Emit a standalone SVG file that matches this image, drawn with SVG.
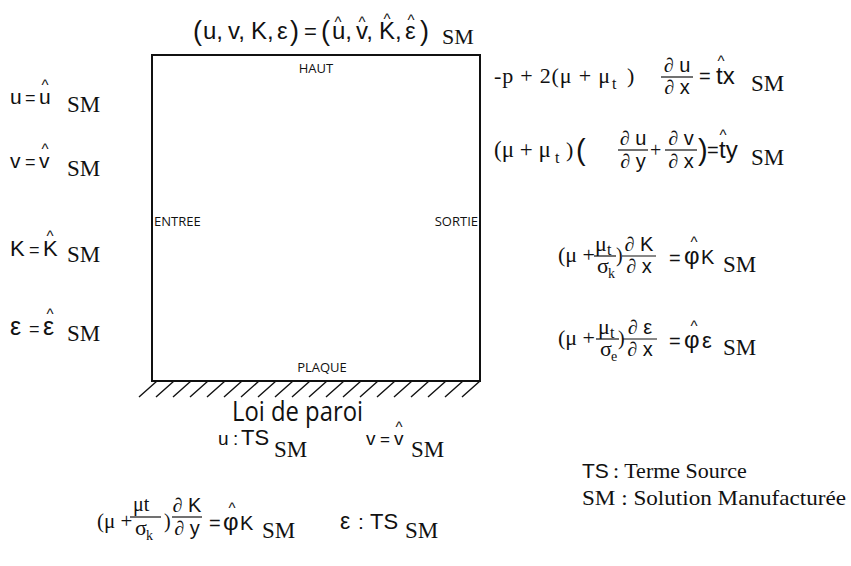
<svg xmlns="http://www.w3.org/2000/svg" width="851" height="566" viewBox="0 0 851 566">
<style>
.s{font-family:"Liberation Sans",Arial,sans-serif;fill:#111}
.r{font-family:"Liberation Serif","Times New Roman",serif;fill:#111}
.o{font-family:"Open Sans","DejaVu Sans",sans-serif;fill:#111}
.h{font-family:"Liberation Sans",Arial,sans-serif;font-size:15px;fill:#111;text-anchor:middle}
.d{font-family:"Liberation Serif",serif;font-style:italic;fill:#111}
.fl{stroke:#111;stroke-width:1.2}
.box{fill:none;stroke:#111;stroke-width:2}
.hatch{stroke:#111;stroke-width:1.4}
.sm{font-family:"Liberation Serif","Times New Roman",serif;fill:#111;font-size:23px}
</style>

<g id="domain">
<rect class="box" x="152" y="55" width="328" height="326"/>
<g id="wall-hatch">
<line class="hatch" x1="152" y1="381" x2="480" y2="381"/>
<path class="hatch" fill="none" d="M139,397L157,381M156,397L174,381M173,397L191,381M190,397L208,381M207,397L225,381M224,397L242,381M241,397L259,381M258,397L276,381M275,397L293,381M292,397L310,381M309,397L327,381M326,397L344,381M343,397L361,381M360,397L378,381M377,397L395,381M394,397L412,381M411,397L429,381M428,397L446,381M445,397L463,381M462,397L480,381"/>
</g>
<text class="o" x="316" y="73" font-size="13" text-anchor="middle">HAUT</text>
<text class="o" x="154" y="226" font-size="13">ENTREE</text>
<text class="o" x="478" y="226" font-size="13" text-anchor="end">SORTIE</text>
<text class="o" x="322" y="372" font-size="13" text-anchor="middle">PLAQUE</text>
</g>

<g id="top-condition">
<text class="s" x="193" y="40" font-size="27">(</text>
<text class="s" x="203" y="39" font-size="24">u,</text>
<text class="s" x="228" y="39" font-size="24">v,</text>
<text class="s" x="251" y="39" font-size="24">K,</text>
<text class="s" x="277" y="39" font-size="24">ε</text>
<text class="s" x="290" y="40" font-size="27">)</text>
<text class="s" x="304" y="39" font-size="22">=</text>
<text class="s" x="321" y="40" font-size="27">(</text>
<text class="s" x="332" y="39" font-size="24">u,</text>
<text class="s" x="356" y="39" font-size="24">v,</text>
<text class="s" x="379" y="39" font-size="24">K,</text>
<text class="s" x="405" y="39" font-size="24">ε</text>
<text class="s" x="420" y="40" font-size="27">)</text>
<text class="h" x="338" y="27">^</text>
<text class="h" x="362" y="27">^</text>
<text class="h" x="387" y="24">^</text>
<text class="h" x="411" y="25">^</text>
<text class="r" x="442" y="44" font-size="22">SM</text>
</g>

<g id="inlet">
<text class="s" x="10" y="104" font-size="21">u</text>
<text class="s" x="25" y="104" font-size="18">=</text>
<text class="s" x="39" y="104" font-size="21">u</text>
<text class="h" x="45" y="90">^</text>
<text class="sm" x="67" y="112" font-size="24">SM</text>

<text class="s" x="10" y="168" font-size="21">v</text>
<text class="s" x="25" y="168" font-size="18">=</text>
<text class="s" x="39" y="168" font-size="21">v</text>
<text class="h" x="45" y="154">^</text>
<text class="sm" x="67" y="176" font-size="24">SM</text>

<text class="s" x="10" y="256" font-size="22">K</text>
<text class="s" x="29" y="256" font-size="18">=</text>
<text class="s" x="43" y="256" font-size="22">K</text>
<text class="h" x="50" y="241">^</text>
<text class="sm" x="67" y="262" font-size="24">SM</text>

<text class="s" x="10" y="335" font-size="25">ε</text>
<text class="s" x="29" y="335" font-size="18">=</text>
<text class="s" x="43" y="335" font-size="25">ε</text>
<text class="h" x="50" y="319">^</text>
<text class="sm" x="67" y="341" font-size="24">SM</text>
</g>

<g id="outlet">
<text class="r" x="494" y="83" font-size="22" textLength="116" lengthAdjust="spacing">-p + 2(μ +  μ</text>
<text class="r" x="612" y="89" font-size="16">t</text>
<text class="r" x="627" y="83" font-size="22">)</text>
<text class="s" x="677" y="72" font-size="20" text-anchor="middle"><tspan class="d">∂</tspan> u</text>
<line class="fl" x1="661" y1="77" x2="693" y2="77"/>
<text class="s" x="677" y="94" font-size="20" text-anchor="middle"><tspan class="d">∂</tspan> x</text>
<text class="s" x="699" y="83" font-size="20">=</text>
<text class="s" x="716" y="84" font-size="24">tx</text>
<text class="h" x="721" y="66">^</text>
<text class="sm" x="751" y="91">SM</text>

<text class="r" x="494" y="157" font-size="23">(μ + μ</text>
<text class="r" x="555" y="163" font-size="16">t</text>
<text class="r" x="566" y="157" font-size="22">)</text>
<text class="s" x="576" y="160" font-size="29">(</text>
<text class="s" x="633" y="145" font-size="20" text-anchor="middle"><tspan class="d">∂</tspan> u</text>
<line class="fl" x1="618" y1="150" x2="648" y2="150"/>
<text class="s" x="633" y="168" font-size="20" text-anchor="middle"><tspan class="d">∂</tspan> y</text>
<text class="r" x="650" y="157" font-size="20">+</text>
<text class="s" x="681" y="145" font-size="20" text-anchor="middle"><tspan class="d">∂</tspan> v</text>
<line class="fl" x1="665" y1="150" x2="697" y2="150"/>
<text class="s" x="681" y="168" font-size="20" text-anchor="middle"><tspan class="d">∂</tspan> x</text>
<text class="s" x="698" y="160" font-size="29">)</text>
<text class="s" x="707" y="157" font-size="20">=</text>
<text class="s" x="719" y="158" font-size="24">ty</text>
<text class="h" x="723" y="140">^</text>
<text class="sm" x="751" y="165">SM</text>

<text class="r" x="558" y="262" font-size="22">(μ +</text>
<text class="r" x="595" y="251" font-size="22">μ</text>
<text class="r" x="607" y="255" font-size="16">t</text>
<line class="fl" x1="594" y1="256" x2="616" y2="256"/>
<text class="r" x="597" y="273" font-size="22">σ</text>
<text class="r" x="608" y="278" font-size="14">k</text>
<text class="r" x="616" y="262" font-size="20">)</text>
<text class="s" x="639" y="251" font-size="20" text-anchor="middle"><tspan class="d">∂</tspan> K</text>
<line class="fl" x1="622" y1="256" x2="656" y2="256"/>
<text class="s" x="639" y="273" font-size="20" text-anchor="middle"><tspan class="d">∂</tspan> x</text>
<text class="s" x="669" y="265" font-size="20">=</text>
<text class="s" x="684" y="264" font-size="24">φ</text>
<text class="s" x="701" y="264" font-size="20">K</text>
<text class="h" x="694" y="247">^</text>
<text class="sm" x="723" y="272">SM</text>

<text class="r" x="558" y="345" font-size="22">(μ +</text>
<text class="r" x="598" y="334" font-size="22">μ</text>
<text class="r" x="610" y="338" font-size="16">t</text>
<line class="fl" x1="596" y1="339" x2="619" y2="339"/>
<text class="r" x="600" y="356" font-size="22">σ</text>
<text class="r" x="611" y="361" font-size="14">e</text>
<text class="r" x="618" y="345" font-size="20">)</text>
<text class="s" x="640" y="334" font-size="20" text-anchor="middle"><tspan class="d">∂</tspan> ε</text>
<line class="fl" x1="623" y1="339" x2="657" y2="339"/>
<text class="s" x="640" y="356" font-size="20" text-anchor="middle"><tspan class="d">∂</tspan> x</text>
<text class="s" x="669" y="348" font-size="20">=</text>
<text class="s" x="684" y="348" font-size="24">φ</text>
<text class="s" x="702" y="348" font-size="22">ε</text>
<text class="h" x="694" y="331">^</text>
<text class="sm" x="723" y="355">SM</text>
</g>

<g id="wall-law">
<text class="o" x="232" y="421" font-size="27" textLength="131" lengthAdjust="spacingAndGlyphs">Loi de paroi</text>
<text class="s" x="218" y="445" font-size="19">u</text>
<text class="s" x="233" y="445" font-size="19">:</text>
<text class="s" x="241" y="445" font-size="22">TS</text>
<text class="sm" x="274" y="457" font-size="24">SM</text>
<text class="s" x="366" y="445" font-size="19">v</text>
<text class="s" x="380" y="445" font-size="17">=</text>
<text class="s" x="394" y="445" font-size="19">v</text>
<text class="h" x="399" y="432">^</text>
<text class="sm" x="411" y="457" font-size="24">SM</text>

<text class="r" x="97" y="528" font-size="21">(μ +</text>
<text class="r" x="133" y="511" font-size="20">μt</text>
<line class="fl" x1="130" y1="517" x2="161" y2="517"/>
<text class="r" x="135" y="535" font-size="22">σ</text>
<text class="r" x="146" y="540" font-size="14">k</text>
<text class="r" x="164" y="528" font-size="20">)</text>
<text class="s" x="187" y="512" font-size="20" text-anchor="middle"><tspan class="d">∂</tspan> K</text>
<line class="fl" x1="172" y1="517" x2="202" y2="517"/>
<text class="s" x="187" y="535" font-size="20" text-anchor="middle"><tspan class="d">∂</tspan> y</text>
<text class="s" x="209" y="530" font-size="20">=</text>
<text class="s" x="223" y="530" font-size="24">φ</text>
<text class="s" x="240" y="530" font-size="20">K</text>
<text class="h" x="232" y="513">^</text>
<text class="sm" x="262" y="538" font-size="24">SM</text>
<text class="s" x="340" y="529" font-size="23">ε</text>
<text class="s" x="358" y="529" font-size="21">:</text>
<text class="s" x="370" y="529" font-size="22">TS</text>
<text class="sm" x="405" y="538" font-size="24">SM</text>
</g>

<g id="legend">
<text class="s" x="582" y="478" font-size="21">TS</text>
<text class="r" x="613" y="478" font-size="22">: Terme Source</text>
<text class="r" x="582" y="505" font-size="22" textLength="264" lengthAdjust="spacingAndGlyphs">SM : Solution Manufacturée</text>
</g>
</svg>
